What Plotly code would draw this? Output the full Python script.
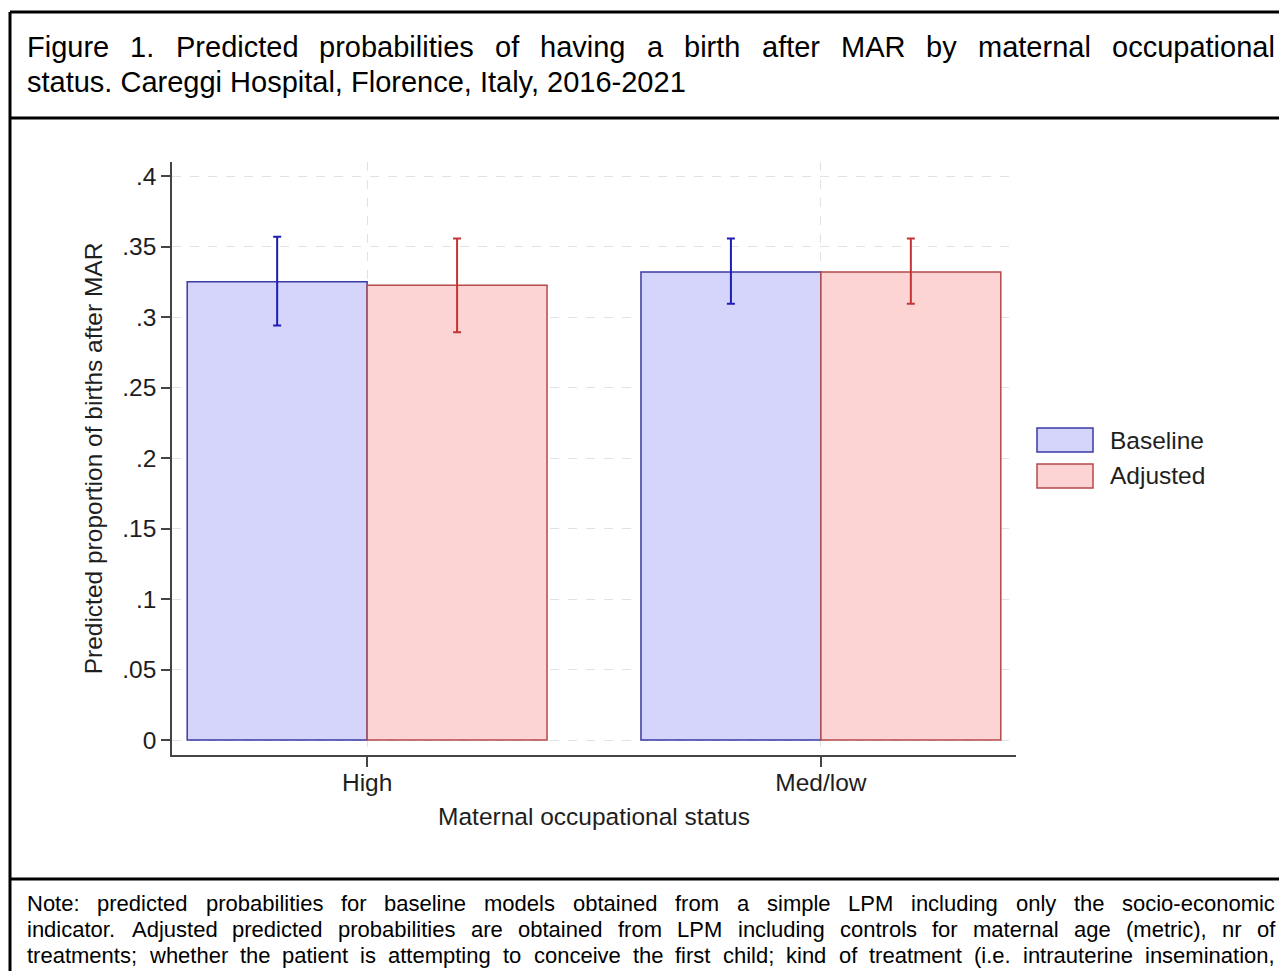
import plotly.graph_objects as go

# ---------------- data ----------------
categories = ["High", "Med/low"]
baseline_vals = [0.3250, 0.3320]
baseline_lo = [0.2940, 0.3095]
baseline_hi = [0.3570, 0.3557]
adjusted_vals = [0.3225, 0.3320]
adjusted_lo = [0.2893, 0.3095]
adjusted_hi = [0.3557, 0.3557]
ytick_vals = [0, 0.05, 0.1, 0.15, 0.2, 0.25, 0.3, 0.35, 0.4]
ytick_text = ["0", ".05", ".1", ".15", ".2", ".25", ".3", ".35", ".4"]
series_names = ["Baseline", "Adjusted"]

title_lines = [
    "Figure 1. Predicted probabilities of having a birth after MAR by maternal occupational",
    "status. Careggi Hospital, Florence, Italy, 2016-2021",
]
note_lines = [
    "Note: predicted probabilities for baseline models obtained from a simple LPM including only the socio-economic",
    "indicator. Adjusted predicted probabilities are obtained from LPM including controls for maternal age (metric), nr of",
    "treatments; whether the patient is attempting to conceive the first child; kind of treatment (i.e. intrauterine insemination,",
]

W, H = 1287, 971
OFF = 8  # default page body margin
FONT = "Liberation Sans, Arial, Helvetica, sans-serif"
TXT = "#1e1e1e"
CH = 24.5  # chart text size

BL_FILL, BL_LINE, BL_ERR = "#d5d5fb", "#3a3aa6", "#1e1eb4"
AD_FILL, AD_LINE, AD_ERR = "#fdd4d4", "#b44a4a", "#c43434"


def px(x):
    return (x - OFF) / W


def py(y):
    return 1 - (y - OFF) / H


# Helvetica/Arial advance widths (per 1000 em)
_w = {' ': 278, '!': 278, '"': 355, '#': 556, '$': 556, '%': 889, '&': 667, "'": 191,
      '(': 333, ')': 333, '*': 389, '+': 584, ',': 278, '-': 333, '.': 278, '/': 278,
      ':': 278, ';': 278, '<': 584, '=': 584, '>': 584, '?': 556, '@': 1015,
      'A': 667, 'B': 667, 'C': 722, 'D': 722, 'E': 667, 'F': 611, 'G': 778, 'H': 722,
      'I': 278, 'J': 500, 'K': 667, 'L': 556, 'M': 833, 'N': 722, 'O': 778, 'P': 667,
      'Q': 778, 'R': 722, 'S': 667, 'T': 611, 'U': 722, 'V': 667, 'W': 944, 'X': 667,
      'Y': 667, 'Z': 611, '[': 278, ']': 278, '_': 556,
      'a': 556, 'b': 556, 'c': 500, 'd': 556, 'e': 556, 'f': 278, 'g': 556, 'h': 556,
      'i': 222, 'j': 222, 'k': 500, 'l': 222, 'm': 833, 'n': 556, 'o': 556, 'p': 556,
      'q': 556, 'r': 333, 's': 500, 't': 278, 'u': 556, 'v': 500, 'w': 722, 'x': 500,
      'y': 500, 'z': 500}
for d in "0123456789":
    _w[d] = 556


def tw(s, size):
    return sum(_w.get(c, 556) for c in s) / 1000.0 * size


annotations = []


def word(text, x, yc, size, color="#000"):
    annotations.append(dict(text=text, x=px(x), y=py(yc), xref="paper", yref="paper",
                            xanchor="left", yanchor="middle", showarrow=False,
                            borderpad=0, font=dict(family=FONT, size=size, color=color)))


def put_line(text, x0, x1, yc, size, justify):
    words = text.split(" ")
    if not justify or len(words) < 2:
        word(text, x0, yc, size)
        return
    total = sum(tw(wd, size) for wd in words)
    gap = (x1 - x0 - total) / (len(words) - 1)
    x = x0
    for wd in words:
        word(wd, x, yc, size)
        x += tw(wd, size) + gap


TITLE_SIZE = 29
put_line(title_lines[0], 26, 1274, 47, TITLE_SIZE, True)
put_line(title_lines[1], 26, 1274, 82, TITLE_SIZE, False)
NOTE_SIZE = 22
put_line(note_lines[0], 26, 1274, 903, NOTE_SIZE, True)
put_line(note_lines[1], 26, 1274, 929, NOTE_SIZE, True)
put_line(note_lines[2], 26, 1274, 955, NOTE_SIZE, True)

# ---------------- traces ----------------
fig = go.Figure()
fig.add_trace(go.Bar(
    x=categories, y=baseline_vals, name=series_names[0],
    marker=dict(color=BL_FILL, line=dict(color=BL_LINE, width=1.5)),
    error_y=dict(type="data", symmetric=False,
                 array=[h - v for h, v in zip(baseline_hi, baseline_vals)],
                 arrayminus=[v - l for v, l in zip(baseline_vals, baseline_lo)],
                 color=BL_ERR, thickness=2, width=4),
    showlegend=False,
))
fig.add_trace(go.Bar(
    x=categories, y=adjusted_vals, name=series_names[1],
    marker=dict(color=AD_FILL, line=dict(color=AD_LINE, width=1.5)),
    error_y=dict(type="data", symmetric=False,
                 array=[h - v for h, v in zip(adjusted_hi, adjusted_vals)],
                 arrayminus=[v - l for v, l in zip(adjusted_vals, adjusted_lo)],
                 color=AD_ERR, thickness=2, width=4),
    showlegend=False,
))

# ---------------- frames & legend ----------------
shapes = []
LW = 3


def hline(y, x0, x1):
    shapes.append(dict(type="line", xref="paper", yref="paper", x0=px(x0), x1=px(x1),
                       y0=py(y), y1=py(y), line=dict(color="#000", width=LW)))


def vline(x, y0, y1):
    shapes.append(dict(type="line", xref="paper", yref="paper", x0=px(x), x1=px(x),
                       y0=py(y0), y1=py(y1), line=dict(color="#000", width=LW)))


hline(12, 10, W + 20)
hline(118, 10, W + 20)
hline(879, 10, W + 20)
vline(10, 12, H + 20)

leg = [(series_names[0], BL_FILL, BL_LINE, 428, 452),
       (series_names[1], AD_FILL, AD_LINE, 464, 488)]
for name, fill, line, y0, y1 in leg:
    shapes.append(dict(type="rect", xref="paper", yref="paper", x0=px(1037), x1=px(1093),
                       y0=py(y1), y1=py(y0), fillcolor=fill,
                       line=dict(color=line, width=1.5)))
    word(name, 1109, (y0 + y1) / 2, CH, TXT)

# ---------------- layout ----------------
X0, X1 = 172, 1016
YB, YT = 755, 162
fig.update_layout(
    width=W, height=H,
    margin=dict(l=0, r=0, t=0, b=0),
    paper_bgcolor="white", plot_bgcolor="white",
    barmode="group", bargap=0.207, bargroupgap=0,
    font=dict(family=FONT, color=TXT, size=CH),
    shapes=shapes, annotations=annotations,
    showlegend=False,
    xaxis=dict(
        domain=[px(X0), px(X1)], range=[-0.43, 1.43], type="category",
        showline=True, linecolor="#444", linewidth=1.5,
        ticks="outside", ticklen=10, tickwidth=1.5, tickcolor="#444",
        ticklabelstandoff=-5,
        showgrid=True, gridcolor="#e2e2e2", griddash="dash", gridwidth=1,
        tickfont=dict(size=CH, color=TXT),
        title=dict(text="Maternal occupational status", font=dict(size=CH, color=TXT), standoff=13),
        automargin=False, zeroline=False,
    ),
    yaxis=dict(
        domain=[py(YB), py(YT)], range=[-0.0106, 0.41],
        tickvals=ytick_vals, ticktext=ytick_text,
        showline=True, linecolor="#444", linewidth=1.5,
        ticks="outside", ticklen=9, tickwidth=1.5, tickcolor="#444",
        showgrid=True, gridcolor="#e2e2e2", griddash="dash", gridwidth=1,
        tickfont=dict(size=CH, color=TXT),
        title=dict(text="Predicted proportion of births after MAR", font=dict(size=CH, color=TXT),
                   standoff=13),
        automargin=False, zeroline=False,
    ),
)

fig.write_html("out.html")
